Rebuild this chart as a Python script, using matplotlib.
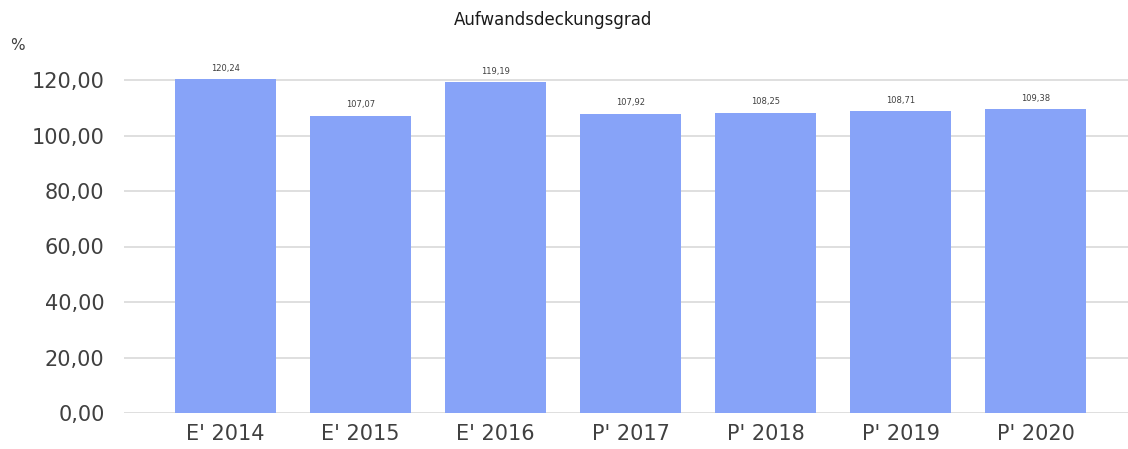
import matplotlib
matplotlib.use("Agg")
import matplotlib.pyplot as plt
from matplotlib.ticker import FuncFormatter

categories = ["E' 2014", "E' 2015", "E' 2016", "P' 2017", "P' 2018", "P' 2019", "P' 2020"]
values = [120.24, 107.07, 119.19, 107.92, 108.25, 108.71, 109.38]
yticks = [0, 20, 40, 60, 80, 100, 120]

W, H = 1128, 449
fig = plt.figure(figsize=(W / 100, H / 100), dpi=100)
# axes in pixel coords: left 124, right 1137, bottom y=413, top y=80 (value 120)
top_val = 121.0
y0, y120 = 413, 80
ppu = (y0 - y120) / 120
top_px = y0 - top_val * ppu
ax = fig.add_axes([124 / W, (H - y0) / H, (1137 - 124) / W, (y0 - top_px) / H])

txt = "#404040"
ax.bar(range(len(values)), values, width=0.75, color="#87a3f8", zorder=2, clip_on=False)
for i, v in enumerate(values):
    ax.text(i, v + 2.3, f"{v:.2f}".replace(".", ","), ha="center", va="bottom",
            fontsize=6, color=txt)

ax.set_xlim(-0.75, 6.75)
ax.set_ylim(0, top_val)
ax.set_yticks(yticks)
ax.yaxis.set_major_formatter(FuncFormatter(lambda v, p: f"{v:.2f}".replace(".", ",")))
ax.set_xticks(range(len(categories)))
ax.set_xticklabels(categories)
ax.tick_params(axis="both", length=0, labelsize=15, colors=txt)
ax.tick_params(axis="y", pad=14)
ax.tick_params(axis="x", pad=8)
ax.grid(axis="y", color="#d9d9d9", linewidth=1.2, zorder=0)
for s in ax.spines.values():
    s.set_visible(False)

fig.text(553 / W, 1 - 20 / H, "Aufwandsdeckungsgrad", ha="center", va="center",
         fontsize=12, color="#1a1a1a")
fig.text(17 / W, 1 - 45 / H, "%", ha="center", va="center", fontsize=11, color=txt)

fig.savefig("out.png", dpi=100, facecolor="white")
